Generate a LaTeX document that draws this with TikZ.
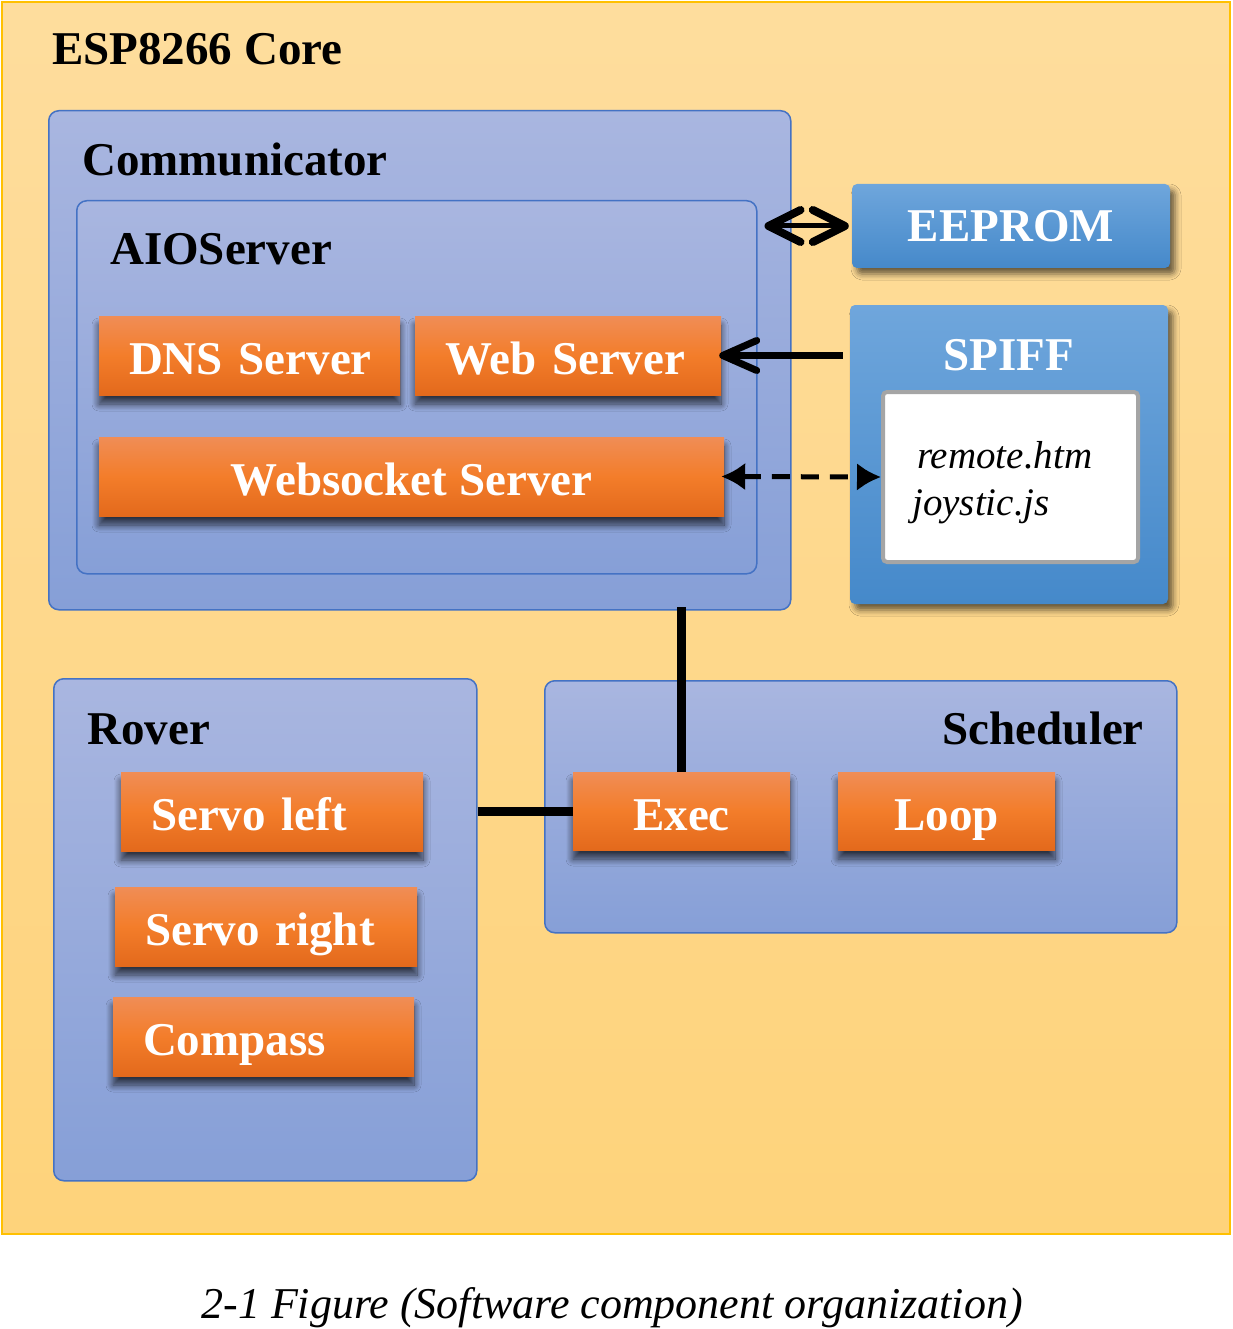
\documentclass[tikz,border=0pt]{standalone}
\usepackage{fontspec}
\setmainfont{Liberation Serif}
\usetikzlibrary{arrows.meta,shadows.blur}
\definecolor{outTop}{HTML}{FEDD9D}
\definecolor{outBot}{HTML}{FED37B}
\definecolor{outLine}{HTML}{FFC000}
\definecolor{cTop}{HTML}{A9B6E0}
\definecolor{cBot}{HTML}{869FD7}
\definecolor{cLine}{HTML}{4472C4}
\definecolor{oTop}{HTML}{F08D56}
\definecolor{oMid}{HTML}{F37D2A}
\definecolor{oBot}{HTML}{E3691C}
\definecolor{bTop}{HTML}{6FA6DC}
\definecolor{bBot}{HTML}{4589CA}
\definecolor{fileLine}{HTML}{A5A5A5}
\tikzset{
  bigfont/.style={font=\fontsize{47pt}{50pt}\selectfont\bfseries},
  outerbox/.style={draw=outLine, line width=2pt, top color=outTop, bottom color=outBot},
  container/.style={draw=cLine, line width=1.5pt, rounded corners=10pt, top color=cTop, bottom color=cBot,
    inner sep=0pt, anchor=north west},
  obox/.style={top color=oTop, bottom color=oBot, middle color=oMid, text=white, bigfont,
    inner sep=0pt, text height=38pt, text depth=0pt,
    blur shadow={shadow xshift=0pt, shadow yshift=-9pt, shadow blur radius=7pt, shadow opacity=70,
      shadow blur steps=10}},
  leftbox/.style={obox, align=left},
  bbox/.style={top color=bTop, bottom color=bBot, rounded corners=5pt, inner sep=0pt, text=white, bigfont,
    blur shadow={shadow xshift=5pt, shadow yshift=-6pt, shadow blur radius=6pt, shadow opacity=60}},
  title/.style={bigfont, anchor=base west, inner sep=0pt},
  filebox/.style={draw=fileLine, line width=4pt, fill=white, rounded corners=4pt, inner sep=0pt},
  filetext/.style={font=\fontsize{39pt}{42pt}\selectfont\itshape, anchor=base west, inner sep=0pt},
  chev/.tip={Straight Barb[length=34pt, width=30pt, line width=7pt, round]},
  chevs/.tip={Straight Barb[length=32pt, width=32pt, line width=8pt, round]},
  solidarr/.style={line width=7pt, -chev},
  dblarr/.style={line width=5pt, chevs-chevs},
  dasharr/.style={line width=5pt, dash pattern=on 18pt off 11pt,
    {Latex[length=24pt,width=28pt]}-{Latex[length=24pt,width=28pt]}},
  link/.style={line width=9pt},
}
\begin{document}
\begin{tikzpicture}[x=1pt, y=-1pt]
\useasboundingbox (0,0) rectangle (1232,1329);
% outer core
\path[outerbox] (2,2) rectangle (1230,1234);
\node[title] (coretitle) at (52,65) {ESP8266 Core};

% Communicator
\node[container, minimum width=742pt, minimum height=499pt] (comm) at (48,110) {};
\node[title] (commtitle) at (82,176) {Communicator};
\node[container, minimum width=680pt, minimum height=373pt] (aio) at (76,200) {};
\node[title] (aiotitle) at (110,265) {AIOServer};
\node[leftbox, minimum width=301pt, minimum height=79pt, text width=241pt] (dns) at (249.5,355.5) {\mbox{DNS Server}};
\node[leftbox, minimum width=306pt, minimum height=79pt, text width=246pt] (web) at (568,355.5) {\mbox{Web Server}};
\node[obox, minimum width=625pt, minimum height=79pt] (ws) at (411.5,476.5) {Websocket Server};

% EEPROM and SPIFF
\node[bbox, minimum width=318pt, minimum height=84pt] (eeprom) at (1011,226) {EEPROM};
\node[bbox, minimum width=318pt, minimum height=299pt] (spiff) at (1009,454.5) {};
\node[bigfont, text=white, anchor=base, inner sep=0pt] (spifftitle) at (1009,370) {SPIFF};
\node[filebox, minimum width=255pt, minimum height=170pt] (files) at (1010.5,477) {};
\node[filetext] (remote) at (917,468) {remote.htm};
\node[filetext] (joy) at (912,515) {joystic.js};

% Rover
\node[container, minimum width=423pt, minimum height=502pt] (rover) at (53,678) {};
\node[title] (rovertitle) at (87,744) {Rover};
\node[leftbox, minimum width=302pt, minimum height=79pt, text width=242pt] (sl) at (272,811.5) {\mbox{Servo left}};
\node[leftbox, minimum width=302pt, minimum height=79pt, text width=242pt] (sr) at (266,926.5) {\mbox{Servo right}};
\node[leftbox, minimum width=301pt, minimum height=79pt, text width=241pt] (compass) at (263.5,1036.5) {\mbox{Compass}};

% Scheduler
\node[container, minimum width=632pt, minimum height=252pt] (sched) at (544,680) {};
\node[bigfont, anchor=base east, inner sep=0pt] (schedtitle) at (1144,744) {Scheduler};
\node[obox, minimum width=217pt, minimum height=78pt] (exec) at (681.5,811) {Exec};
\node[obox, minimum width=217pt, minimum height=78pt] (loop) at (946.5,811) {Loop};

% connectors
\draw[dblarr, shorten <=3pt, shorten >=7pt] (eeprom.west) -- (eeprom.west -| aio.east);
\draw[solidarr, shorten <=7pt, shorten >=-2pt] (spiff.west |- web.east) -- (web.east);
\draw[dasharr, shorten <=-3pt] (ws.east) -- (files.west);
\draw[link, shorten >=-4pt] (exec.north) -- (exec.north |- comm.south);
\draw[link] (rover.east |- exec.west) -- (exec.west);

% caption
\node[font=\fontsize{44pt}{46pt}\selectfont\itshape, anchor=base, inner sep=0pt] (caption) at (612,1318)
  {2-1 Figure (Software component organization)};
\end{tikzpicture}
\end{document}
